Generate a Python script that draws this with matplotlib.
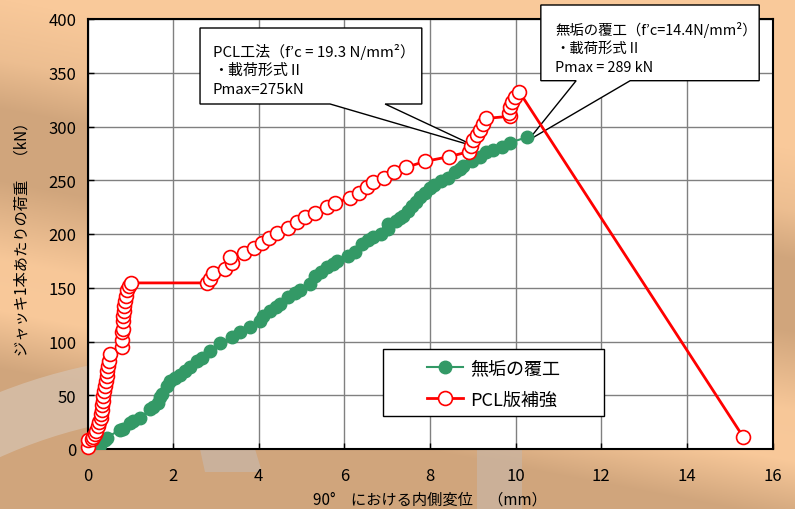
import numpy as np
import matplotlib
matplotlib.use('Agg')
import matplotlib.pyplot as plt
from matplotlib.patches import Polygon, Rectangle, Wedge

plt.rcParams['font.family'] = ['Noto Sans CJK JP', 'DejaVu Sans']

# ---------------- data ----------------
green_x = [0.18, 0.29, 0.41, 0.45, 0.76, 0.84, 0.99, 1.07, 1.23, 1.46, 1.54, 1.65, 1.69, 1.73,
           1.85, 1.93, 2.04, 2.16, 2.28, 2.40, 2.55, 2.67, 2.86, 3.10, 3.37, 3.56, 3.80, 4.03,
           4.11, 4.26, 4.40, 4.50, 4.69, 4.85, 4.96, 5.20, 5.32, 5.45, 5.59, 5.74, 5.82, 6.09,
           6.25, 6.41, 6.55, 6.68, 6.85, 7.03, 7.03, 7.20, 7.30, 7.38, 7.48, 7.58, 7.68, 7.77,
           7.89, 8.00, 8.10, 8.25, 8.43, 8.59, 8.70, 8.78, 8.98, 9.17, 9.30, 9.48, 9.68, 9.87,
           10.26]
green_y = [2, 4, 8.5, 10.5, 18, 19, 24.5, 26.5, 29, 37, 39, 43, 48, 51,
           59, 63.5, 66.5, 68.5, 72.5, 76, 82, 85, 91.5, 99, 104, 108.5, 113.5, 119.5,
           124, 128.5, 132, 135, 141, 145, 148, 153.5, 161, 165, 169, 172, 175, 180,
           183, 190.5, 194, 197, 200, 204.5, 209, 212, 214.5, 217, 221, 226, 229.5, 234,
           238.5, 243, 246, 249, 252.5, 257.5, 260.5, 263.5, 268, 272, 276, 278.5, 280.5, 285,
           290]

red_x = [0.02, 0.02, 0.10, 0.14, 0.18, 0.21, 0.25, 0.28, 0.31, 0.31, 0.33, 0.34, 0.36, 0.37,
         0.39, 0.41, 0.43, 0.45, 0.46, 0.49, 0.51, 0.53, 0.80, 0.80, 0.80, 0.82, 0.82, 0.83,
         0.85, 0.86, 0.88, 0.89, 0.92, 0.96, 1.01, 2.78, 2.86, 2.94, 3.21, 3.37, 3.33, 3.66,
         3.89, 4.08, 4.25, 4.42, 4.68, 4.90, 5.09, 5.32, 5.59, 5.78, 6.12, 6.35, 6.54, 6.68,
         6.93, 7.16, 7.44, 7.88, 8.45, 8.90, 8.95, 9.01, 9.09, 9.17, 9.23, 9.31, 9.86, 9.84,
         9.87, 9.92, 9.98, 10.09, 15.32]
red_y = [1.5, 8, 9, 11, 14, 17, 21, 25, 28.5, 32.5, 36.5, 41, 45, 49.5,
         54, 59, 63.5, 68, 73, 77.5, 82, 88.5, 94.5, 101, 108.5, 111.5, 119.5, 124,
         128.5, 133, 138, 142.5, 147.5, 151.5, 154.5, 154.5, 158, 163.5, 167, 173, 178.5, 182,
         187, 191.5, 196, 201, 206, 211, 215.5, 220, 225, 229, 233.5, 238, 243.5, 248.5,
         252.5, 257.5, 262, 267.5, 272, 276.5, 282, 287, 292, 297, 302, 307.5, 309.5, 313,
         318, 322.5, 327, 332, 11]

x_ticks = [0, 2, 4, 6, 8, 10, 12, 14, 16]
y_ticks = [0, 50, 100, 150, 200, 250, 300, 350, 400]

series_names = ['無垢の覆工', 'PCL版補強']
xlabel = '90°　における内側変位　（mm）'
ylabel = 'ジャッキ1本あたりの荷重　（kN）'

box1_lines = ['PCL工法（f’c = 19.3 N/mm²）', '・載荷形式Ⅱ', 'Pmax=275kN']
box2_lines = ['無垢の覆工（f’c=14.4N/mm²）', '・載荷形式Ⅱ', 'Pmax = 289 kN']

# ---------------- figure ----------------
W, H = 795, 510
fig = plt.figure(figsize=(W / 100, H / 100), dpi=100)

# background gradient
bg = fig.add_axes([0, 0, 1, 1], zorder=-10)
bg.set_xlim(0, W)
bg.set_ylim(H, 0)
bg.axis('off')
yy, xx = np.mgrid[0:H, 0:W]
s = yy - 0.19 * xx
peach = np.array([249, 201, 154]) / 255
tan = np.array([208, 165, 124]) / 255
stops = [-300, 0, 60, 110, 180, 260, 310, 370, 800]
vals = [0, 0, 0.3, 1, 1, 0.05, 0, 1, 1]
t = np.interp(s, stops, vals)[..., None]
img = peach * (1 - t) + tan * t
bg.imshow(img, extent=(0, W, H, 0), aspect='auto', interpolation='bilinear')
bg.add_patch(Wedge((200, 900), 545, 235, 262, width=60, facecolor='#d6c0ab',
                   edgecolor='none', alpha=0.8))
bg.add_patch(Polygon([[200, 450], [255, 450], [262, 473], [205, 473]], closed=True,
                     facecolor='#c9b5a4', edgecolor='none', alpha=0.8))
bg.add_patch(Rectangle((477, 450), 45, 60, facecolor='#c9b5a4', edgecolor='none', alpha=0.7))

# main axes
ax = fig.add_axes([87.5 / W, 60 / H, 685 / W, 430 / H])
ax.set_facecolor('white')
ax.set_xlim(0, 16)
ax.set_ylim(0, 400)
ax.set_xticks(x_ticks)
ax.set_yticks(y_ticks)
ax.set_xticklabels([str(v) for v in x_ticks])
ax.set_yticklabels([str(v) for v in y_ticks])
ax.grid(True, color='#808080', lw=1.0)
ax.set_axisbelow(True)
ax.tick_params(direction='in', length=4, width=1, labelsize=12, colors='black')
ax.tick_params(axis='x', pad=13)
ax.tick_params(axis='y', pad=8)
for sp in ax.spines.values():
    sp.set_linewidth(1.5)
    sp.set_color('black')

ax.set_xlabel(xlabel, fontsize=11, labelpad=5)
ax.set_ylabel(ylabel, fontsize=11, labelpad=13)

GREEN = '#339966'
ax.plot(green_x, green_y, color=GREEN, lw=1.5, marker='o', ms=9, mfc=GREEN, mec=GREEN,
        zorder=4, label=series_names[0])
ax.plot(red_x, red_y, color='red', lw=2, marker='o', ms=10, mfc='white', mec='red', mew=1.2,
        zorder=5, label=series_names[1], clip_on=False)


# callouts (pixel -> data helpers)
def dx(px):
    return (px - 87.5) / 42.8


def dy(py):
    return (450 - py) / 1.075


def callout(L, T, R, B, b1, b2, tip):
    pts = [(dx(L), dy(T)), (dx(R), dy(T)), (dx(R), dy(B)), (dx(b2), dy(B)),
           tip, (dx(b1), dy(B)), (dx(L), dy(B))]
    ax.add_patch(Polygon(pts, closed=True, facecolor='white', edgecolor='black', lw=1.0,
                         zorder=3, clip_on=False))


callout(200, 29, 421.7, 105, 330, 385, (9.09, 281))
callout(540.7, 6, 759, 81.7, 576, 630, (10.29, 287))

for i, line in enumerate(box1_lines):
    fig.text(213 / W, 1 - [51.5, 71, 89.5][i] / H, line, fontsize=10.8, va='center', ha='left')
for i, line in enumerate(box2_lines):
    fig.text(555 / W, 1 - [29.5, 49, 67.5][i] / H, line, fontsize=10.4, va='center', ha='left')

# legend
ax.add_patch(Rectangle((dx(383), dy(416.7)), dx(604) - dx(383), dy(350) - dy(416.7),
                       facecolor='white', edgecolor='black', lw=1.0, zorder=6))
leg = ax.legend(loc='center left', bbox_to_anchor=((427 - 87.5) / 685, (450 - 385) / 430),
                frameon=False, fontsize=13, handlelength=2.0, handletextpad=0.4,
                borderpad=0, borderaxespad=0, labelspacing=0.75)
leg.set_zorder(7)

fig.savefig('out.png', dpi=100)
